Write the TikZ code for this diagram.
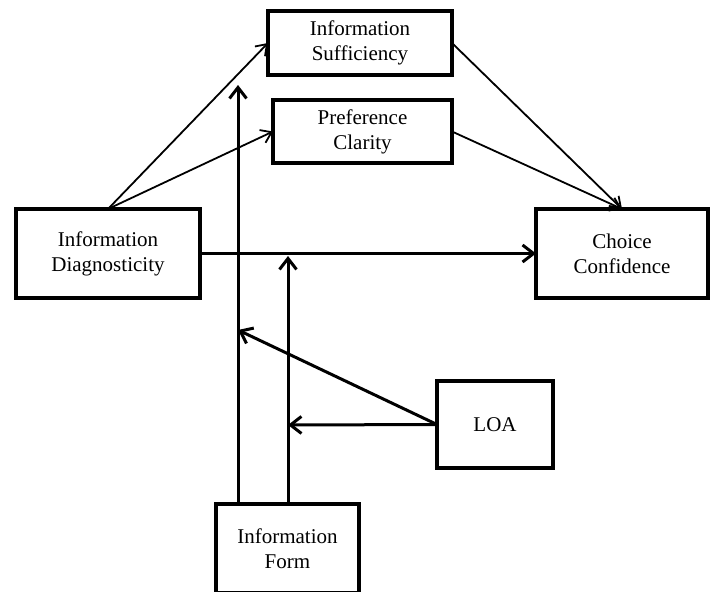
\documentclass[tikz,border=0pt]{standalone}
\usepackage{fontspec}
\setmainfont{Liberation Serif}
\usetikzlibrary{arrows.meta}

\begin{document}
\begin{tikzpicture}[x=1pt, y=-1pt,
  font=\fontsize{21}{25}\selectfont,
  b/.style={draw, line width=3.6pt, align=center, inner sep=0pt, outer sep=0pt},
  th/.style={line width=1.8pt, -{Straight Barb[length=10pt, width=14pt]}},
  tk/.style={line width=3pt, -{Straight Barb[length=11pt, width=17pt]}}]
\useasboundingbox (0,0) rectangle (710,592);
\node[b, minimum width=184pt, minimum height=64pt] (is) at (360,43) {Information\\Sufficiency};
\node[b, minimum width=179pt, minimum height=63pt] (pc) at (362.5,131.5) {Preference\\Clarity};
\node[b, minimum width=184pt, minimum height=89pt] (id) at (108,253.5) {Information\\Diagnosticity};
\node[b, minimum width=172pt, minimum height=89pt] (cc) at (622,253.5) {Choice\\Confidence};
\node[b, minimum width=116pt, minimum height=87pt] (loa) at (495,424.5) {LOA};
\node[b, minimum width=143pt, minimum height=89pt] (ff) at (287.5,548.5) {Information\\Form};
\coordinate (m1) at (238,85);
\coordinate (m2) at (288,256);
\coordinate (m3) at (238,330);
\coordinate (m4) at (288,425);
% paths to mediators and outcome
\draw[th] (id.north) -- (is.west); \draw[th] (id.north) -- (pc.west);
\draw[th] (is.east) -- (cc.north); \draw[th] (pc.east) -- (cc.north);
\draw[tk] (id.east) -- (cc.west);
% moderators
\draw[tk] (ff.north -| m1) -- (m1); \draw[tk] (ff.north -| m2) -- (m2);
\draw[tk] (loa.west) -- (m3); \draw[tk] (loa.west) -- (m4);
\end{tikzpicture}
\end{document}
